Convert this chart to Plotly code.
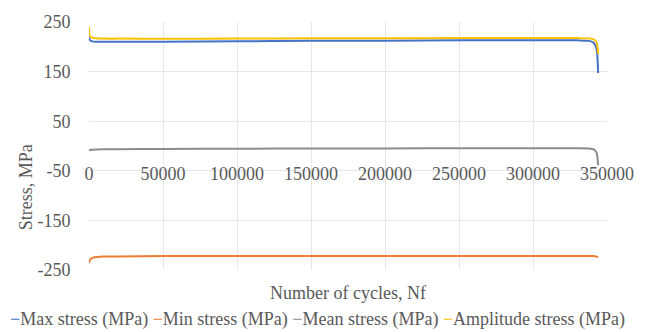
import plotly.graph_objects as go

cycles = [0, 500, 2000, 5000, 10000, 20000, 50000, 100000, 150000, 200000,
          250000, 300000, 330000, 338000, 341000, 343000, 344000]
max_stress = [222, 214, 211, 210, 210, 210, 210, 211, 212, 212,
              213, 213, 213, 212, 208, 195, 147]
min_stress = [-236, -230, -226, -224, -223, -223, -222, -222, -222, -222,
              -222, -222, -222, -222, -222, -223, -224]
mean_stress = [-9, -8, -7.5, -7, -6.5, -6.5, -6, -5.5, -5, -5,
               -4.5, -4.5, -4.5, -5, -7, -14, -38.5]
amp_stress = [240, 222, 218.5, 217, 216.5, 216.5, 216, 216.5, 217, 217,
              217.5, 217.5, 217.5, 217, 215, 209, 185.5]

series_names = ["Max stress (MPa)", "Min stress (MPa)", "Mean stress (MPa)", "Amplitude stress (MPa)"]
series_vals = [max_stress, min_stress, mean_stress, amp_stress]
colors = ["#4472C4", "#ED7D31", "#8C8C8C", "#FFC000"]

x_ticks = [0, 50000, 100000, 150000, 200000, 250000, 300000, 350000]
y_ticks = [-250, -150, -50, 50, 150, 250]

FONT = "Times New Roman"
TXT = "#595959"

fig = go.Figure()
for name, vals, c in zip(series_names, series_vals, colors):
    fig.add_trace(go.Scatter(x=cycles, y=vals, mode="lines", name=name,
                             line=dict(color=c, width=2, shape="spline", smoothing=0.6)))

fig.update_layout(
    width=646, height=332,
    margin=dict(l=89, r=26, t=21, b=62),
    paper_bgcolor="white", plot_bgcolor="white",
    showlegend=False,
    font=dict(family=FONT),
)
fig.update_xaxes(range=[0, 350000], tickvals=x_ticks, ticktext=[str(v) for v in x_ticks],
                 showgrid=True, gridcolor="#E6E6E6", gridwidth=1,
                 zeroline=False, showline=False, anchor="free", position=0.44,
                 ticks="", ticklabeloverflow="allow",
                 tickfont=dict(family=FONT, size=18, color=TXT))
fig.update_yaxes(range=[-250, 250], tickvals=y_ticks, ticktext=[str(v) for v in y_ticks],
                 showgrid=True, gridcolor="#E6E6E6", gridwidth=1,
                 zeroline=False, showline=False,
                 ticks="outside", ticklen=14, tickcolor="rgba(0,0,0,0)",
                 tickfont=dict(family=FONT, size=18, color=TXT))

fig.add_annotation(text="Stress, MPa", textangle=-90, xref="paper", yref="paper",
                   x=-0.12, y=0.333, showarrow=False, xanchor="center", yanchor="middle",
                   font=dict(family=FONT, size=18, color=TXT))
fig.add_annotation(text="Number of cycles, Nf", xref="paper", yref="paper",
                   x=0.5, y=-0.092, showarrow=False, xanchor="center", yanchor="middle",
                   font=dict(family=FONT, size=18, color=TXT))

legend_text = " ".join(
    f'<span style="color:{c}">−</span>{n}' for n, c in zip(series_names, colors)
)
fig.add_annotation(text=legend_text, xref="paper", yref="paper",
                   x=0.4407, y=-0.2, showarrow=False, xanchor="center", yanchor="middle",
                   font=dict(family=FONT, size=18, color=TXT))

fig.write_html("out.html")
